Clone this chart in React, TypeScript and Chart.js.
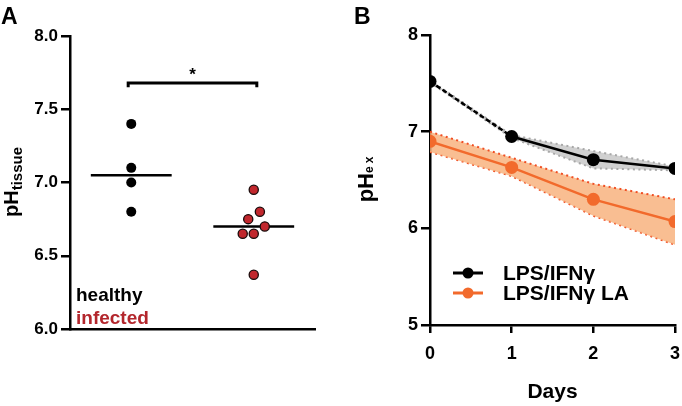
import React, { useEffect, useRef } from 'react';
import { Chart, registerables } from 'chart.js';

Chart.register(...registerables);

// ---------- Panel A data ----------
const groupNames = ['healthy', 'infected'];
const groupCenters = [1, 3];
const healthyX = [1, 1, 1, 1];
const healthyPH = [7.4, 7.1, 7.0, 6.8];
const infectedX = [3.0, 3.1, 2.91, 3.18, 2.82, 3.0, 3.0];
const infectedPH = [6.95, 6.8, 6.75, 6.7, 6.65, 6.65, 6.37];
const groupMedians = [7.05, 6.7];
const medianHalfWidth = 0.66;
const bracketLevel = 7.68;
const bracketDrop = 0.03;
const bracketEnds = [0.95, 3.05];
const significanceMark = '*';
const yTicksA = [6.0, 6.5, 7.0, 7.5, 8.0];

// ---------- Panel B data ----------
const days = [0, 1, 2, 3];
const lpsMean = [7.52, 6.95, 6.71, 6.62];
const lpsUpper = [7.53, 6.965, 6.8, 6.64];
const lpsLower = [7.51, 6.935, 6.62, 6.6];
const laMean = [6.9, 6.63, 6.3, 6.07];
const laUpper = [7.0, 6.73, 6.46, 6.3];
const laLower = [6.79, 6.54, 6.13, 5.83];
const seriesNames = ['LPS/IFNγ', 'LPS/IFNγ LA'];
const yTicksB = [5, 6, 7, 8];

const FONT = '"Liberation Sans", Arial, Helvetica, sans-serif';
const RED = '#b3262c';
const ORANGE = '#f26a2c';

function drawRotatedTitle(ctx: CanvasRenderingContext2D, x: number, y: number, main: string, sub: string, mainSize: number, subSize: number, subOffset: number, spacing: string) {
  ctx.save();
  ctx.translate(x, y);
  ctx.rotate(-Math.PI / 2);
  ctx.fillStyle = '#000';
  ctx.textBaseline = 'alphabetic';
  ctx.textAlign = 'left';
  ctx.font = `bold ${mainSize}px ${FONT}`;
  const w1 = ctx.measureText(main).width;
  ctx.font = `bold ${subSize}px ${FONT}`;
  (ctx as any).letterSpacing = spacing;
  const w2 = ctx.measureText(sub).width;
  (ctx as any).letterSpacing = '0px';
  const start = -(w1 + w2) / 2;
  ctx.font = `bold ${mainSize}px ${FONT}`;
  ctx.fillText(main, start, 0);
  ctx.font = `bold ${subSize}px ${FONT}`;
  (ctx as any).letterSpacing = spacing;
  ctx.fillText(sub, start + w1, subOffset);
  (ctx as any).letterSpacing = '0px';
  ctx.restore();
}

function ChartA() {
  const ref = useRef<HTMLCanvasElement>(null);
  useEffect(() => {
    if (!ref.current) return;
    const annot = {
      id: 'annotA',
      afterDraw(chart: any) {
        const ctx = chart.ctx as CanvasRenderingContext2D;
        const xs = chart.scales.x;
        const ys = chart.scales.y;
        ctx.save();
        ctx.fillStyle = '#000';
        ctx.font = `bold 23px ${FONT}`;
        ctx.textAlign = 'left';
        ctx.textBaseline = 'alphabetic';
        ctx.fillText('A', 1, 24);
        // star
        ctx.font = `bold 17px ${FONT}`;
        ctx.textAlign = 'center';
        ctx.textBaseline = 'alphabetic';
        ctx.fillText(significanceMark, xs.getPixelForValue((bracketEnds[0] + bracketEnds[1]) / 2), ys.getPixelForValue(bracketLevel) - 3);
        // group legend text
        ctx.textAlign = 'left';
        ctx.font = `bold 19px ${FONT}`;
        ctx.fillStyle = '#000';
        ctx.fillText(groupNames[0], 76, 301);
        ctx.fillStyle = RED;
        ctx.fillText(groupNames[1], 76, 324);
        ctx.restore();
        drawRotatedTitle(ctx, 18, 182, 'pH', 'tissue', 20, 15, 4, '0px');
      },
    };
    const medianLine = (i: number) => [
      { x: groupCenters[i] - medianHalfWidth, y: groupMedians[i] },
      { x: groupCenters[i] + medianHalfWidth, y: groupMedians[i] },
    ];
    const chart = new Chart(ref.current, {
      type: 'scatter',
      data: {
        datasets: [
          {
            label: 'healthy',
            data: healthyX.map((x, i) => ({ x, y: healthyPH[i] })),
            backgroundColor: '#000',
            borderColor: '#000',
            pointRadius: 5,
            borderWidth: 0,
          },
          {
            label: 'infected',
            data: infectedX.map((x, i) => ({ x, y: infectedPH[i] })),
            backgroundColor: '#c1272d',
            borderColor: '#1a0a0a',
            pointRadius: 4.6,
            borderWidth: 1.3,
          },
          {
            label: 'median healthy',
            data: medianLine(0),
            showLine: true,
            borderColor: '#000',
            borderWidth: 2.5,
            pointRadius: 0,
          },
          {
            label: 'median infected',
            data: medianLine(1),
            showLine: true,
            borderColor: '#000',
            borderWidth: 2.5,
            pointRadius: 0,
          },
          {
            label: 'bracket',
            data: [
              { x: bracketEnds[0], y: bracketLevel - bracketDrop },
              { x: bracketEnds[0], y: bracketLevel },
              { x: bracketEnds[1], y: bracketLevel },
              { x: bracketEnds[1], y: bracketLevel - bracketDrop },
            ],
            showLine: true,
            borderColor: '#000',
            borderWidth: 3,
            pointRadius: 0,
          },
        ],
      },
      options: {
        animation: false,
        responsive: true,
        maintainAspectRatio: false,
        layout: { padding: { top: 36, right: 25, bottom: 77, left: 0 } },
        plugins: { legend: { display: false }, tooltip: { enabled: false } },
        scales: {
          x: {
            type: 'linear',
            min: 0,
            max: 4,
            grid: { display: false },
            ticks: { display: false },
            border: { display: true, color: '#000', width: 2.5 },
            afterFit: (s: any) => { s.height = 0; },
          },
          y: {
            min: 6,
            max: 8,
            afterBuildTicks: (s: any) => { s.ticks = yTicksA.map((v) => ({ value: v })); },
            ticks: {
              color: '#000',
              font: { family: FONT, size: 17, weight: 'bold' },
              padding: 3,
              callback: (v: any) => Number(v).toFixed(1),
            },
            grid: { display: true, drawOnChartArea: false, drawTicks: true, tickLength: 9, color: '#000', lineWidth: 2.5 },
            border: { display: true, color: '#000', width: 2.5 },
            afterFit: (s: any) => { s.width = 70; },
          },
        },
      },
      plugins: [annot],
    } as any);
    return () => chart.destroy();
  }, []);
  return (
    <div style={{ position: 'absolute', left: 0, top: 0, width: 340, height: 406 }}>
      <canvas ref={ref} />
    </div>
  );
}

function ChartB() {
  const ref = useRef<HTMLCanvasElement>(null);
  useEffect(() => {
    if (!ref.current) return;
    const annot = {
      id: 'annotB',
      afterDraw(chart: any) {
        const ctx = chart.ctx as CanvasRenderingContext2D;
        ctx.save();
        ctx.fillStyle = '#000';
        ctx.font = `bold 23px ${FONT}`;
        ctx.textAlign = 'left';
        ctx.textBaseline = 'alphabetic';
        ctx.fillText('B', 14, 24);
        // legend
        const colors = ['#000', ORANGE];
        const rows = [273, 293];
        rows.forEach((yy, i) => {
          ctx.strokeStyle = colors[i];
          ctx.lineWidth = 3;
          ctx.beginPath();
          ctx.moveTo(113, yy);
          ctx.lineTo(143, yy);
          ctx.stroke();
          ctx.fillStyle = colors[i];
          ctx.beginPath();
          ctx.arc(128, yy, 5.5, 0, Math.PI * 2);
          ctx.fill();
          ctx.fillStyle = '#000';
          ctx.font = `bold 21px ${FONT}`;
          ctx.textBaseline = 'middle';
          ctx.fillText(seriesNames[i], 163, yy + 1);
        });
        ctx.restore();
        drawRotatedTitle(ctx, 33, 178, 'pH', 'ex', 22, 12, 0, '3px');
      },
    };
    const bandStyle = (border: string) => ({
      borderColor: border,
      borderWidth: 2,
      borderDash: [2, 3.5],
      pointRadius: 0,
      tension: 0,
    });
    const chart = new Chart(ref.current, {
      type: 'line',
      data: {
        datasets: [
          {
            label: seriesNames[0],
            data: days.map((d, i) => ({ x: d, y: lpsMean[i] })),
            borderColor: '#000',
            backgroundColor: '#000',
            borderWidth: 2.5,
            pointRadius: 6.5,
            pointBorderWidth: 0,
            fill: false,
            order: 0,
            segment: {
              borderDash: (c: any) => (c.p0DataIndex === 0 ? [5, 2.5] : undefined),
            },
          },
          {
            label: 'lps upper',
            data: days.map((d, i) => ({ x: d, y: lpsUpper[i] })),
            ...bandStyle('#a8a8a8'),
            backgroundColor: 'rgba(170,170,170,0.55)',
            fill: '+1',
            order: 1,
          },
          {
            label: 'lps lower',
            data: days.map((d, i) => ({ x: d, y: lpsLower[i] })),
            ...bandStyle('#a8a8a8'),
            fill: false,
            order: 1,
          },
          {
            label: seriesNames[1],
            data: days.map((d, i) => ({ x: d, y: laMean[i] })),
            borderColor: ORANGE,
            backgroundColor: ORANGE,
            borderWidth: 2.5,
            pointRadius: 6.5,
            pointBorderWidth: 0,
            fill: false,
            order: 2,
          },
          {
            label: 'la upper',
            data: days.map((d, i) => ({ x: d, y: laUpper[i] })),
            ...bandStyle('#f04e23'),
            backgroundColor: 'rgba(248,176,122,0.82)',
            fill: '+1',
            order: 3,
          },
          {
            label: 'la lower',
            data: days.map((d, i) => ({ x: d, y: laLower[i] })),
            ...bandStyle('#f04e23'),
            fill: false,
            order: 3,
          },
        ],
      },
      options: {
        animation: false,
        responsive: true,
        maintainAspectRatio: false,
        layout: { padding: { top: 35, right: 7, bottom: 0, left: 0 } },
        plugins: { legend: { display: false }, tooltip: { enabled: false } },
        scales: {
          x: {
            type: 'linear',
            min: 0,
            max: 3,
            afterBuildTicks: (s: any) => { s.ticks = days.map((v) => ({ value: v })); },
            ticks: {
              color: '#000',
              font: { family: FONT, size: 18, weight: 'bold' },
              padding: 10,
              maxRotation: 0,
            },
            grid: { display: true, drawOnChartArea: false, drawTicks: true, tickLength: 8, color: '#000', lineWidth: 2.5 },
            border: { display: true, color: '#000', width: 2.5 },
            title: {
              display: true,
              text: 'Days',
              color: '#000',
              font: { family: FONT, size: 21, weight: 'bold' },
              padding: { top: 0, bottom: 1 },
            },
            afterFit: (s: any) => { s.height = 81; s.paddingRight = 0; s.paddingLeft = 0; },
          },
          y: {
            min: 5,
            max: 8,
            afterBuildTicks: (s: any) => { s.ticks = yTicksB.map((v) => ({ value: v })); },
            ticks: {
              color: '#000',
              font: { family: FONT, size: 18, weight: 'bold' },
              padding: 3,
            },
            grid: { display: true, drawOnChartArea: false, drawTicks: true, tickLength: 9, color: '#000', lineWidth: 2.5 },
            border: { display: true, color: '#000', width: 2.5 },
            afterFit: (s: any) => { s.width = 90; },
          },
        },
      },
      plugins: [annot],
    } as any);
    return () => chart.destroy();
  }, []);
  return (
    <div style={{ position: 'absolute', left: 340, top: 0, width: 342, height: 406 }}>
      <canvas ref={ref} />
    </div>
  );
}

export default function App() {
  return (
    <div style={{ position: 'absolute', left: 0, top: 0, width: 682, height: 406, background: '#fff', overflow: 'hidden' }}>
      <ChartA />
      <ChartB />
    </div>
  );
}
